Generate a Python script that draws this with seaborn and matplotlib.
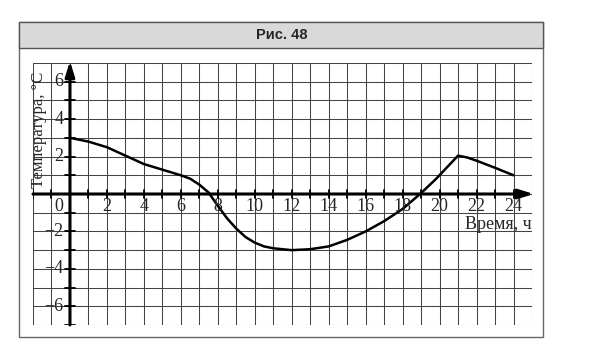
import numpy as np
import pandas as pd
import matplotlib
matplotlib.use("Agg")
import matplotlib.pyplot as plt
import seaborn as sns
from matplotlib.patches import Rectangle

hours = [0, 1, 2, 3, 4, 5, 6, 6.5, 7, 7.5, 8, 8.5, 9, 9.5, 10, 10.5, 11, 12, 13, 14, 15, 16, 17, 18, 19, 19.8, 21, 21.5, 22, 23, 24]
temps = [3.0, 2.8, 2.5, 2.05, 1.6, 1.3, 1.0, 0.82, 0.5, 0.08, -0.63, -1.3, -1.85, -2.3, -2.6, -2.8, -2.9, -3.0, -2.95, -2.8, -2.45, -2.0, -1.45, -0.8, 0.05, 0.8, 2.05, 1.95, 1.78, 1.4, 1.0]
x_ticks = [0, 2, 4, 6, 8, 10, 12, 14, 16, 18, 20, 22, 24]
y_ticks = [6, 4, 2, -2, -4, -6]
title = "Рис. 48"
xlabel = "Время, ч"
ylabel = "Температура, °C"

sns.set_style("white")
plt.rcParams['font.family'] = ['Liberation Serif', 'DejaVu Serif']

W, H = 600, 352
fig = plt.figure(figsize=(6, 3.52), dpi=100)

def fx(px):
    return px / W
def fy(py):
    return 1 - py / H

fig.patches.append(Rectangle((fx(19), fy(337)), fx(543) - fx(19), fy(22) - fy(337),
                             transform=fig.transFigure, fill=False, ec='#666666', lw=1.0))
fig.patches.append(Rectangle((fx(19), fy(48)), fx(543) - fx(19), fy(22) - fy(48),
                             transform=fig.transFigure, fc='#d9d9d9', ec='#555555', lw=1.0))
fig.text(fx(282), fy(35), title, ha='center', va='center', fontsize=10.5,
         fontweight='bold', family=['Liberation Sans', 'DejaVu Sans'])

ax = fig.add_axes([fx(33), fy(325), fx(532) - fx(33), fy(63) - fy(325)])
ax.set_xlim(-2, 25)
ax.set_ylim(-7, 7)

for gx in range(-2, 26):
    ax.axvline(gx, color='#444444', lw=0.75, zorder=1)
for gy in range(-7, 8):
    ax.axhline(gy, color='#444444', lw=0.75, zorder=1)

ax.annotate('', xy=(25.1, 0), xytext=(-2, 0), annotation_clip=False,
            arrowprops=dict(arrowstyle='-|>,head_length=0.9,head_width=0.28', color='black', lw=2.2,
                            shrinkA=0, shrinkB=0), zorder=3)
ax.annotate('', xy=(0, 7.1), xytext=(0, -7), annotation_clip=False,
            arrowprops=dict(arrowstyle='-|>,head_length=0.9,head_width=0.28', color='black', lw=2.2,
                            shrinkA=0, shrinkB=0), zorder=3)

for tx in range(-2, 25):
    ax.plot([tx, tx], [-0.2, 0.2], color='black', lw=1.3, zorder=3)
for ty in range(-7, 7):
    ax.plot([-0.25, 0.25], [ty, ty], color='black', lw=1.3, zorder=3)

df = pd.DataFrame({'hour': hours, 'temp': temps})
sns.lineplot(data=df, x='hour', y='temp', ax=ax, color='black', lw=1.8, zorder=4)

for tx in x_ticks:
    if tx == 0:
        ax.text(-0.6, -0.68, '0', ha='center', va='center', fontsize=13, zorder=5)
    else:
        ax.text(tx, -0.68, str(tx), ha='center', va='center', fontsize=13, zorder=5)
for ty in y_ticks:
    lab = str(ty) if ty > 0 else '\u2212' + str(-ty)
    ax.text(-0.35, ty, lab, ha='right', va='center', fontsize=13, zorder=5)

ax.text(-1.65, 3.4, ylabel, rotation=90, ha='center', va='center', fontsize=12, zorder=5)
ax.text(25.0, -1.65, xlabel, ha='right', va='center', fontsize=13, zorder=5)

ax.set_xlabel('')
ax.set_ylabel('')
ax.set_xticks([])
ax.set_yticks([])
for s in ax.spines.values():
    s.set_visible(False)

fig.savefig('out.png', dpi=100)
